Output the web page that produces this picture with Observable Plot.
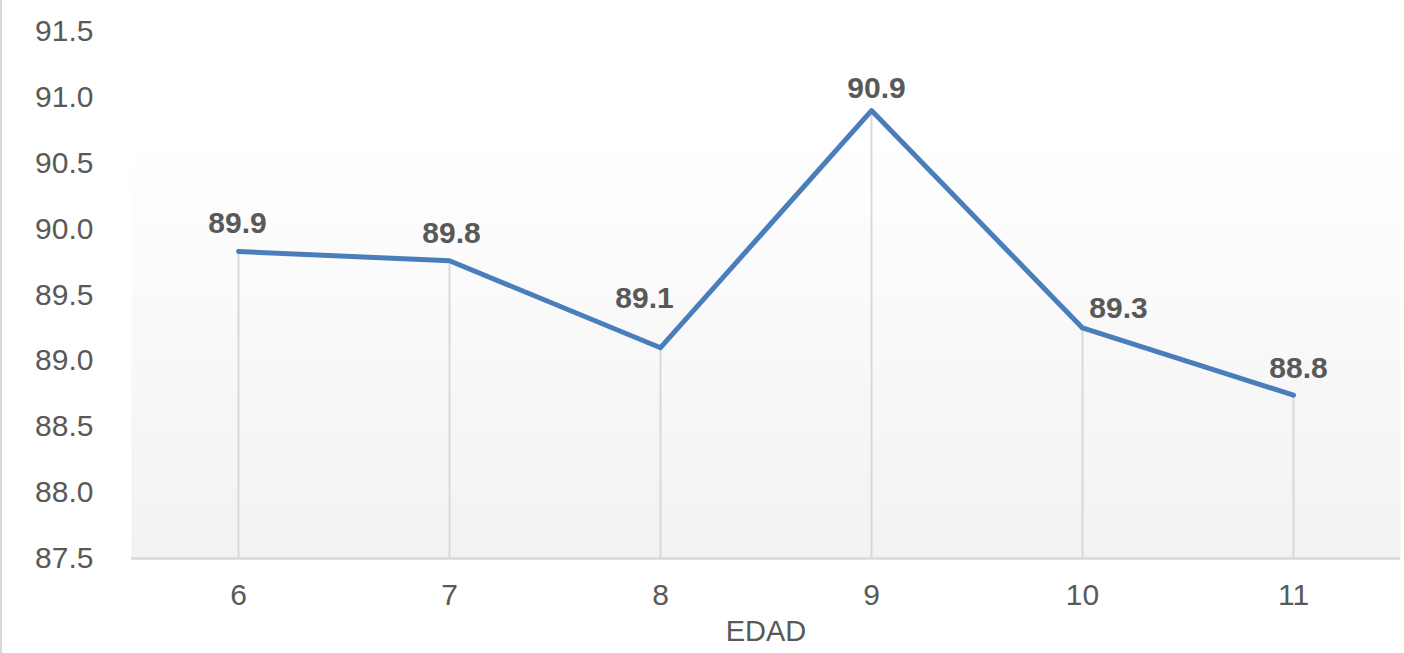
<!DOCTYPE html>
<html>
<head>
<meta charset="utf-8">
<script src="https://cdn.jsdelivr.net/npm/d3@7"></script>
<script src="https://cdn.jsdelivr.net/npm/@observablehq/plot@0.6"></script>
<style>
  html, body { margin: 0; padding: 0; background: #ffffff; }
  #wrap { position: relative; width: 1404px; height: 653px; overflow: hidden; }
  #edge { position: absolute; left: 0; top: 0; width: 2px; height: 653px; background: #d9d9d9; }
</style>
</head>
<body>
<div id="wrap"><div id="edge"></div></div>
<script>
// Data
const edades = [6, 7, 8, 9, 10, 11];
const valores = [89.83, 89.76, 89.10, 90.90, 89.25, 88.74];
const etiquetas = ["89.9", "89.8", "89.1", "90.9", "89.3", "88.8"];
const yTicks = [87.5, 88.0, 88.5, 89.0, 89.5, 90.0, 90.5, 91.0, 91.5];
const xTitle = "EDAD";

const data = edades.map((e, i) => ({edad: e, valor: valores[i], etiqueta: etiquetas[i]}));

// label placement (styling, per point)
const labelOffsets = [[-1, -28], [2, -27], [-16, -49], [5, -22], [36, -20], [5, -27]];

const font = "'Liberation Sans', Arial, sans-serif";
const textColor = "#595959";
const yMin = yTicks[0];

const chart = Plot.plot({
  width: 1404,
  height: 653,
  marginLeft: 131,
  marginRight: 4,
  marginTop: 31,
  marginBottom: 95,
  style: {fontFamily: font, fontSize: "30px", color: textColor, background: "transparent"},
  x: {type: "point", domain: edades, padding: 0.5, label: null},
  y: {domain: [yTicks[0], yTicks[yTicks.length - 1]], label: null},
  marks: [
    Plot.frame({fill: "url(#bgGrad)", stroke: "none"}),
    Plot.axisY({ticks: yTicks, tickFormat: d3.format(".1f"), tickSize: 0, tickPadding: 38, label: null, fill: textColor, fontSize: 30}),
    Plot.axisX({tickSize: 0, tickPadding: 25, label: null, fill: textColor, fontSize: 30}),
    Plot.ruleX(data, {x: "edad", y1: yMin, y2: "valor", stroke: "#d9d9d9", strokeWidth: 2}),
    Plot.ruleY([yMin], {stroke: "#d9d9d9", strokeWidth: 2.5}),
    Plot.line(data, {x: "edad", y: "valor", stroke: "#4a7ebb", strokeWidth: 5}),
    ...data.map((d, i) => Plot.text([d], {
      x: "edad", y: "valor", text: "etiqueta",
      dx: labelOffsets[i][0], dy: labelOffsets[i][1],
      fill: textColor, fontWeight: "bold", fontSize: 30
    })),
    Plot.text([xTitle], {frameAnchor: "bottom", dy: 82, fill: textColor, fontSize: 29})
  ]
});

// gradient definition for plot-area background
const svg = d3.select(chart);
const defs = svg.insert("defs", ":first-child");
const grad = defs.append("linearGradient").attr("id", "bgGrad")
  .attr("x1", 0).attr("y1", 0).attr("x2", 0).attr("y2", 1);
grad.append("stop").attr("offset", "0").attr("stop-color", "#ffffff");
grad.append("stop").attr("offset", "0.2").attr("stop-color", "#ffffff");
grad.append("stop").attr("offset", "1").attr("stop-color", "#f2f2f2");

document.getElementById("wrap").appendChild(chart);
chart.style.position = "absolute";
chart.style.left = "0";
chart.style.top = "0";
</script>
</body>
</html>
